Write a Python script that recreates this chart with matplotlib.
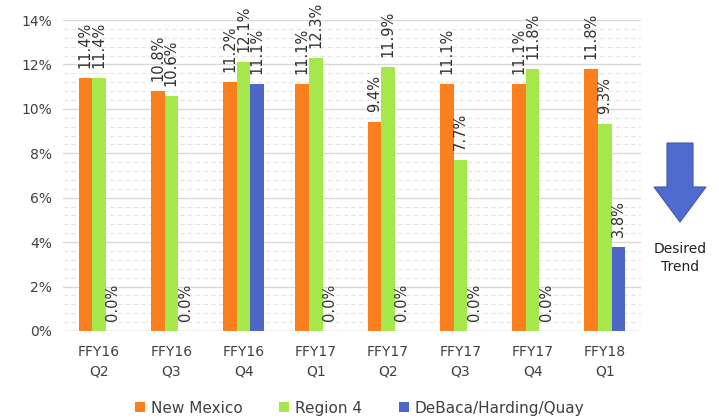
import matplotlib
matplotlib.use("Agg")
import matplotlib.pyplot as plt
import numpy as np
from matplotlib.ticker import MultipleLocator, FuncFormatter
from matplotlib.patches import FancyArrow

categories = ["FFY16\nQ2", "FFY16\nQ3", "FFY16\nQ4", "FFY17\nQ1", "FFY17\nQ2", "FFY17\nQ3", "FFY17\nQ4", "FFY18\nQ1"]
new_mexico = [11.4, 10.8, 11.2, 11.1, 9.4, 11.1, 11.1, 11.8]
region4 = [11.4, 10.6, 12.1, 12.3, 11.9, 7.7, 11.8, 9.3]
debaca = [0.0, 0.0, 11.1, 0.0, 0.0, 0.0, 0.0, 3.8]
series_names = ["New Mexico", "Region 4", "DeBaca/Harding/Quay"]
colors = ["#FA7F1E", "#A6E84C", "#4F66C9"]

fig = plt.figure(figsize=(7.19, 4.19), dpi=100)
ax = fig.add_axes([63/719, 1-331/419, 578/719, 311/419])

x = np.arange(len(categories))
w = 0.19
for i, (vals, c, name) in enumerate(zip([new_mexico, region4, debaca], colors, series_names)):
    pos = x + (i - 1) * w
    ax.bar(pos, vals, width=w, color=c, label=name, zorder=3)
    for p, v in zip(pos, vals):
        ax.text(p, v + 0.45, f"{v:.1f}%", rotation=90, ha="center", va="bottom",
                fontsize=10.5, color="#303030", zorder=4)

ax.set_ylim(0, 14)
ax.set_xlim(-0.5, len(categories) - 0.5)
ax.yaxis.set_major_locator(MultipleLocator(2))
ax.yaxis.set_minor_locator(MultipleLocator(0.4))
ax.yaxis.set_major_formatter(FuncFormatter(lambda v, p: f"{v:.0f}%"))
ax.grid(axis="y", which="major", color="#D9D9D9", linewidth=1, zorder=0)
ax.grid(axis="y", which="minor", color="#E4E4E4", linewidth=0.8, linestyle=(0, (4, 3)), zorder=0)
ax.set_xticks(x)
ax.set_xticklabels(categories, fontsize=10, color="#404040", linespacing=1.5)
ax.tick_params(axis="y", labelsize=10, labelcolor="#404040", length=0, which="both", pad=8)
ax.tick_params(axis="x", length=0, pad=10)
for s in ax.spines.values():
    s.set_visible(False)
ax.axhline(0, color="#D9D9D9", linewidth=1, zorder=2)

leg = fig.legend(loc="center", bbox_to_anchor=(0.5, 1-408/419), ncol=3, frameon=False,
                 fontsize=11, handlelength=0.65, handleheight=0.65, columnspacing=2.4,
                 handletextpad=0.4, labelcolor="#404040")

# Desired trend arrow
arrow = FancyArrow(680/719, 1-143/419, 0, -(222-143)/419, width=26/719, head_width=52/719,
                   head_length=35/419, length_includes_head=True, transform=fig.transFigure,
                   color="#4F6BD0", ec="#3F56B0", lw=0.8)
fig.patches.append(arrow)
fig.text(680/719, 1-258/419, "Desired\nTrend", ha="center", va="center", fontsize=10,
         color="#202020", linespacing=1.4)

fig.savefig("out.png", dpi=100)
